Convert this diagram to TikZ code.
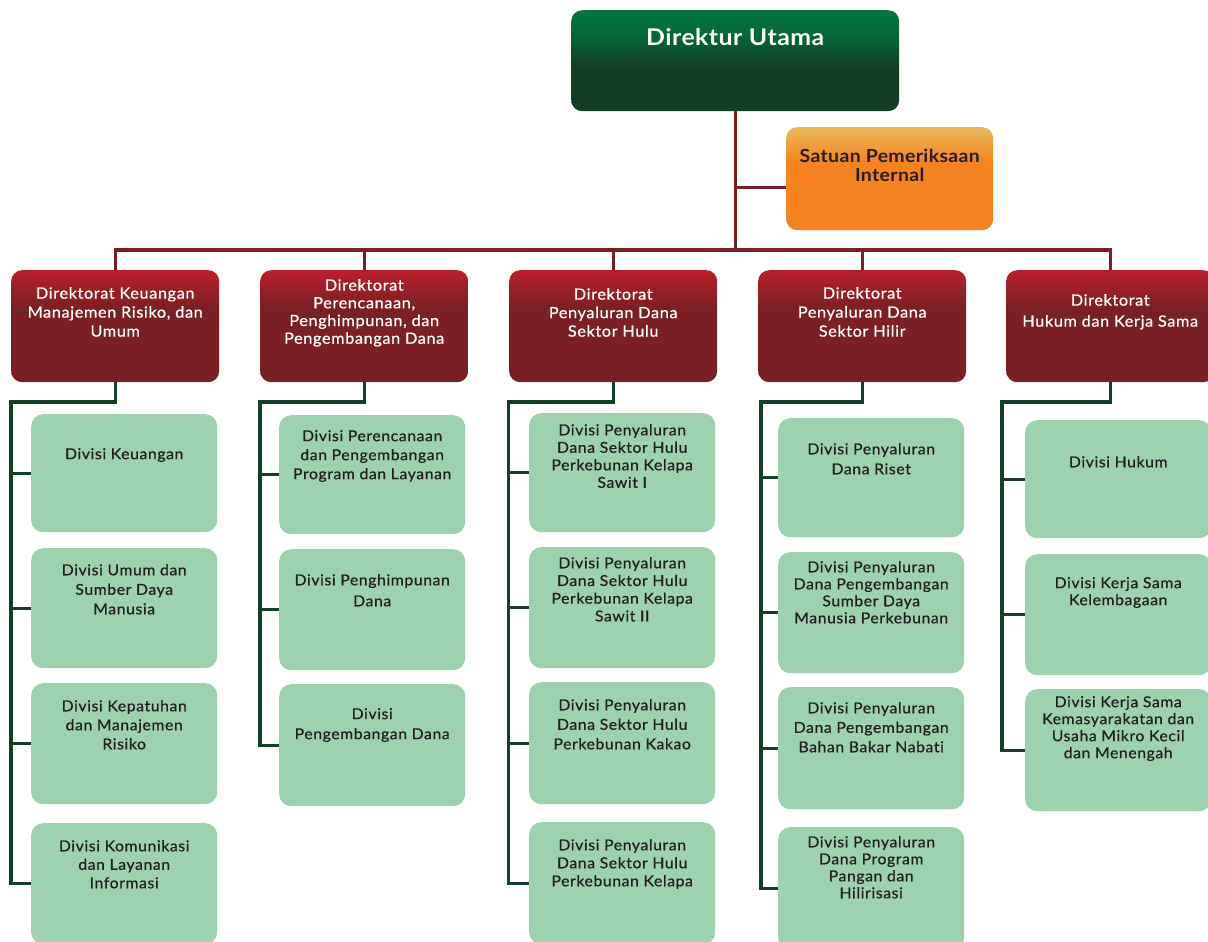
\documentclass[tikz,border=0pt]{standalone}
\usepackage{fontspec}
\setmainfont{Lato}
\newfontfamily\bodyfont{Lato}[FakeBold=0.7, FakeStretch=1.05, LetterSpace=4, Ligatures=NoCommon]
\newfontfamily\headfont{Lato}[FakeStretch=1.08, LetterSpace=2, Ligatures=NoCommon]
\definecolor{dug1}{HTML}{00793F}
\definecolor{dug2}{HTML}{123E24}
\definecolor{dr1}{HTML}{BA1F2B}
\definecolor{dr2}{HTML}{7A1F24}
\definecolor{or1}{HTML}{EAB95C}
\definecolor{or2}{HTML}{F5831F}
\definecolor{lnred}{HTML}{7A1F24}
\definecolor{lngreen}{HTML}{133F26}
\definecolor{divgreen}{HTML}{9CD3AE}
\definecolor{txtdark}{HTML}{231F20}
\pgfdeclareverticalshading{dushade}{100bp}{color(0bp)=(dug2); color(46bp)=(dug2); color(62bp)=(dug1!65!dug2); color(75bp)=(dug1); color(100bp)=(dug1)}
\pgfdeclareverticalshading{dirshade}{100bp}{color(0bp)=(dr2); color(58bp)=(dr2); color(75bp)=(dr1); color(100bp)=(dr1)}
\pgfdeclareverticalshading{orshade}{100bp}{color(0bp)=(or2); color(58bp)=(or2); color(75bp)=(or1); color(100bp)=(or1)}
\tikzset{
  rline/.style={draw=lnred, line width=3.4pt},
  gline/.style={draw=lngreen, line width=3.4pt},
  dubox/.style={shade, shading=dushade, rounded corners=11pt, inner sep=0pt, anchor=north west, text=white, font=\headfont\bfseries\fontsize{23}{26}\selectfont},
  spbox/.style={shade, shading=orshade, rounded corners=11pt, inner sep=0pt, anchor=north west, text=txtdark, font=\headfont\bfseries\fontsize{18}{19}\selectfont},
  dirbox/.style={shade, shading=dirshade, rounded corners=11pt, inner sep=0pt, anchor=north west, text=white, font=\bodyfont\fontsize{15.5}{19}\selectfont},
  divbox/.style={fill=divgreen, rounded corners=12pt, inner sep=0pt, anchor=north west, text=txtdark, font=\bodyfont\fontsize{15}{18}\selectfont}
}
% style, name, x, y, w, h, top skip, baselineskip, text
\newcommand\obox[9]{\node[#1] (#2) at (#3,#4) {\parbox[t][#6pt][t]{#5pt}{\centering\setlength\baselineskip{#8pt}\vspace*{#7pt}#9\par}};}
\begin{document}
\begin{tikzpicture}[x=1pt,y=-1pt]
\useasboundingbox (0,0) rectangle (1208,942);
% top
\obox{dubox}{du}{571}{10}{328}{101}{18}{26}{Direktur Utama}
\obox{spbox}{sp}{786}{127}{207}{103}{22}{19}{Satuan Pemeriksaan\\Internal}
% directorates
\obox{dirbox}{d1}{11}{270}{208}{112}{17}{19}{Direktorat Keuangan\\Manajemen Risiko, dan\\Umum}
\obox{dirbox}{d2}{260}{270}{208}{112}{9}{17.7}{Direktorat\\Perencanaan,\\Penghimpunan, dan\\Pengembangan Dana}
\obox{dirbox}{d3}{509}{270}{208}{112}{18}{18.5}{Direktorat\\Penyaluran Dana\\Sektor Hulu}
\obox{dirbox}{d4}{758}{270}{208}{112}{17}{19}{Direktorat\\Penyaluran Dana\\Sektor Hilir}
\obox{dirbox}{d5}{1006}{270}{208}{112}{24}{21}{Direktorat\\Hukum dan Kerja Sama}
% column 1
\obox{divbox}{v11}{31}{414}{186}{118}{34}{19}{Divisi Keuangan}
\obox{divbox}{v12}{31}{548}{186}{120}{16}{19.5}{Divisi Umum dan\\Sumber Daya\\Manusia}
\obox{divbox}{v13}{31}{683}{186}{121}{17}{19}{Divisi Kepatuhan\\dan Manajemen\\Risiko}
\obox{divbox}{v14}{31}{823}{186}{121}{17}{18.5}{Divisi Komunikasi\\dan Layanan\\Informasi}
% column 2
\obox{divbox}{v21}{279}{415}{186}{119}{15}{19}{Divisi Perencanaan\\dan Pengembangan\\Program dan Layanan}
\obox{divbox}{v22}{279}{549}{186}{121}{25}{21}{Divisi Penghimpunan\\Dana}
\obox{divbox}{v23}{279}{684}{186}{122}{24}{20}{Divisi\\Pengembangan Dana}
% column 3
\obox{divbox}{v31}{529}{413}{186}{119}{11}{17.5}{Divisi Penyaluran\\Dana Sektor Hulu\\Perkebunan Kelapa\\Sawit I}
\obox{divbox}{v32}{529}{547}{186}{121}{10}{17.7}{Divisi Penyaluran\\Dana Sektor Hulu\\Perkebunan Kelapa\\Sawit II}
\obox{divbox}{v33}{529}{682}{186}{122}{17}{19.5}{Divisi Penyaluran\\Dana Sektor Hulu\\Perkebunan Kakao}
\obox{divbox}{v34}{529}{822}{186}{122}{17}{18}{Divisi Penyaluran\\Dana Sektor Hulu\\Perkebunan Kelapa}
% column 4
\obox{divbox}{v41}{778}{418}{186}{119}{25}{20}{Divisi Penyaluran\\Dana Riset}
\obox{divbox}{v42}{778}{552}{186}{121}{9}{17}{Divisi Penyaluran\\Dana Pengembangan\\Sumber Daya\\Manusia Perkebunan}
\obox{divbox}{v43}{778}{687}{186}{122}{15}{19.5}{Divisi Penyaluran\\Dana Pengembangan\\Bahan Bakar Nabati}
\obox{divbox}{v44}{778}{827}{186}{122}{9}{17}{Divisi Penyaluran\\Dana Program\\Pangan dan\\Hilirisasi}
% column 5
\obox{divbox}{v51}{1025}{420}{186}{118}{36}{19}{Divisi Hukum}
\obox{divbox}{v52}{1025}{554}{186}{121}{23}{17}{Divisi Kerja Sama\\Kelembagaan}
\obox{divbox}{v53}{1025}{689}{186}{122}{7}{17}{Divisi Kerja Sama\\Kemasyarakatan dan\\Usaha Mikro Kecil\\dan Menengah}
% red connectors
\coordinate (bus) at (0,250);
\draw[rline] (du.south) -- (du.south |- bus);
\draw[rline] ([yshift=-9pt]sp.west) -- ([yshift=-9pt]sp.west -| du.south);
\draw[rline] (d1.north) -- (d1.north |- bus) -- (d5.north |- bus) -- (d5.north);
\draw[rline] (d2.north) -- (d2.north |- bus);
\draw[rline] (d3.north) -- (d3.north |- bus);
\draw[rline] (d4.north) -- (d4.north |- bus);
% green connectors
\coordinate (c1) at (11,402);
\coordinate (c2) at (260,402);
\coordinate (c3) at (508.5,402);
\coordinate (c4) at (761,402);
\coordinate (c5) at (1002,402);
\draw[gline] (d1.south) |- (c1) |- (v14.west);
\draw[gline] (v11.west) -- (v11.west -| c1);
\draw[gline] (v12.west) -- (v12.west -| c1);
\draw[gline] (v13.west) -- (v13.west -| c1);
\draw[gline] (d2.south) |- (c2) |- (v23.west);
\draw[gline] (v21.west) -- (v21.west -| c2);
\draw[gline] (v22.west) -- (v22.west -| c2);
\draw[gline] (d3.south) |- (c3) |- (v34.west);
\draw[gline] (v31.west) -- (v31.west -| c3);
\draw[gline] (v32.west) -- (v32.west -| c3);
\draw[gline] (v33.west) -- (v33.west -| c3);
\draw[gline] (d4.south) |- (c4) |- (v44.west);
\draw[gline] (v41.west) -- (v41.west -| c4);
\draw[gline] (v42.west) -- (v42.west -| c4);
\draw[gline] (v43.west) -- (v43.west -| c4);
\draw[gline] (d5.south) |- (c5) |- (v53.west);
\draw[gline] (v51.west) -- (v51.west -| c5);
\draw[gline] (v52.west) -- (v52.west -| c5);
\end{tikzpicture}
\end{document}
